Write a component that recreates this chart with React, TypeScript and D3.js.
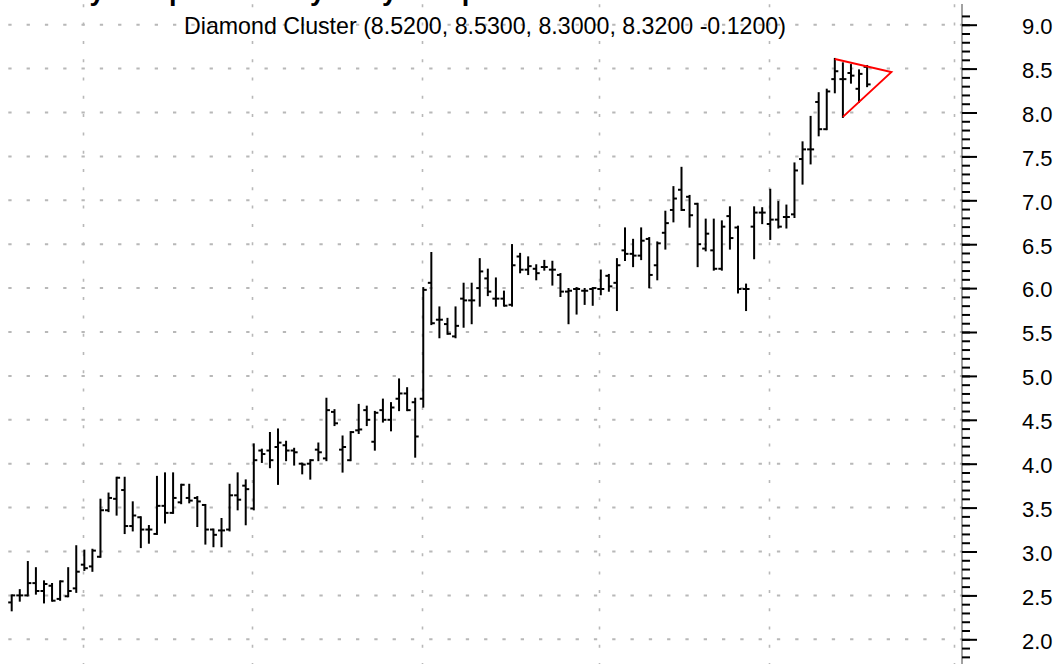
import { useEffect, useRef } from "react";
import * as d3 from "d3";

// daily OHLC
const opens = [
  2.42, 2.5, 2.5, 2.64, 2.55, 2.61, 2.46, 2.49, 2.58, 2.85, 2.83, 2.94, 3.47, 3.6, 3.7, 3.29, 3.39, 3.25, 3.2, 3.52,
  3.44, 3.56, 3.61, 3.61, 3.53, 3.25, 3.24, 3.25, 3.64, 3.75, 3.49, 4.15, 4.15, 4.19, 4.21, 4.15, 4.0, 4.0, 4.16, 4.06,
  4.59, 4.16, 4.04, 4.38, 4.61, 4.25, 4.61, 4.5, 4.74, 4.8, 4.7, 4.74, 6.06, 5.64, 5.59, 5.45, 5.88, 5.86, 6.0, 6.11,
  5.88, 5.88, 5.81, 6.36, 6.21, 6.22, 6.24, 6.21, 6.15, 5.96, 5.99, 5.97, 5.99, 5.99, 6.14, 6.06, 6.43, 6.39, 6.37, 6.56,
  6.26, 6.63, 6.89, 7.12, 7.04, 6.96, 6.45, 6.43, 6.22, 6.82, 6.69, 5.99, 6.7, 6.86, 6.73, 6.78, 6.81, 6.84, 7.47, 7.58,
  8.12, 7.81, 8.38, 8.38, 8.45, 8.27, 8.52,
];
const highs = [
  2.5, 2.56, 2.88, 2.81, 2.66, 2.63, 2.66, 2.81, 3.06, 3.01, 3.02, 3.59, 3.66, 3.84, 3.84, 3.56, 3.39, 3.29, 3.85, 3.89,
  3.89, 3.76, 3.76, 3.62, 3.53, 3.25, 3.37, 3.76, 3.89, 3.81, 4.22, 4.16, 4.35, 4.39, 4.25, 4.17, 4.0, 4.04, 4.23, 4.74,
  4.61, 4.31, 4.36, 4.67, 4.65, 4.59, 4.73, 4.69, 4.96, 4.86, 4.74, 6.0, 6.4, 5.78, 5.65, 5.78, 6.05, 6.05, 6.33, 6.21,
  6.11, 5.96, 6.49, 6.39, 6.35, 6.26, 6.31, 6.3, 6.16, 5.99, 6.0, 5.99, 6.0, 6.2, 6.15, 6.33, 6.68, 6.55, 6.68, 6.57,
  6.52, 6.87, 7.15, 7.37, 7.05, 6.96, 6.78, 6.78, 6.76, 6.92, 6.7, 6.04, 6.92, 6.91, 7.12, 6.98, 6.94, 7.42, 7.66, 7.95,
  8.22, 8.26, 8.61, 8.56, 8.54, 8.48, 8.53,
];
const lows = [
  2.33, 2.44, 2.5, 2.52, 2.42, 2.44, 2.45, 2.49, 2.54, 2.79, 2.78, 2.94, 3.46, 3.42, 3.21, 3.24, 3.05, 3.1, 3.2, 3.33,
  3.44, 3.55, 3.56, 3.29, 3.09, 3.06, 3.06, 3.24, 3.48, 3.31, 3.48, 4.02, 3.96, 3.77, 4.04, 3.99, 3.89, 3.83, 4.04, 4.04,
  4.44, 3.91, 4.04, 4.35, 4.44, 4.16, 4.48, 4.38, 4.61, 4.61, 4.08, 4.65, 5.59, 5.44, 5.48, 5.44, 5.56, 5.6, 5.8, 5.92,
  5.8, 5.8, 5.8, 6.18, 6.16, 6.1, 6.21, 6.04, 5.91, 5.6, 5.71, 5.82, 5.81, 5.93, 5.97, 5.75, 6.32, 6.25, 6.33, 6.01,
  6.1, 6.45, 6.76, 6.89, 6.7, 6.25, 6.43, 6.21, 6.21, 6.45, 5.95, 5.75, 6.34, 6.74, 6.56, 6.69, 6.69, 6.81, 7.19, 7.42,
  7.74, 7.81, 8.23, 7.95, 8.34, 8.12, 8.3,
];
const closes = [
  2.5, 2.5, 2.64, 2.55, 2.63, 2.44, 2.66, 2.55, 2.77, 2.81, 3.01, 3.47, 3.61, 3.84, 3.29, 3.41, 3.25, 3.25, 3.52, 3.44,
  3.61, 3.76, 3.58, 3.57, 3.25, 3.19, 3.24, 3.64, 3.59, 3.71, 4.04, 4.11, 4.04, 4.24, 4.15, 4.13, 3.99, 4.04, 4.13, 4.61,
  4.46, 4.19, 4.36, 4.39, 4.5, 4.58, 4.5, 4.64, 4.8, 4.61, 4.31, 5.98, 5.6, 5.64, 5.48, 5.57, 5.86, 5.86, 6.19, 5.96,
  5.88, 5.8, 6.26, 6.21, 6.25, 6.17, 6.24, 6.21, 5.96, 5.97, 5.99, 5.97, 6.0, 5.99, 6.02, 6.26, 6.39, 6.37, 6.54, 6.15,
  6.51, 6.74, 7.02, 6.89, 6.83, 6.5, 6.62, 6.22, 6.7, 6.57, 5.99, 5.99, 6.86, 6.86, 6.78, 6.7, 6.81, 7.34, 7.58, 7.58,
  7.81, 8.24, 8.47, 8.38, 8.42, 8.44, 8.32,
];

// first trading day of each month (bar index)
const monthStarts = [9, 30, 51, 73, 94, 117];
const priceTicks = [2.0, 2.5, 3.0, 3.5, 4.0, 4.5, 5.0, 5.5, 6.0, 6.5, 7.0, 7.5, 8.0, 8.5, 9.0];

// diamond cluster outline: top-left, apex, bottom-left
const clusterIdx = [102, 109, 103];
const clusterPrice = [8.61, 8.46, 7.95];

// title sits above the frame, only its descenders show
const titleText = "Daily Sample Chart by Daily Sample";
const subtitleText = "Diamond Cluster (8.5200, 8.5300, 8.3000, 8.3200 -0.1200)";

const W = 1061;
const H = 664;
const FONT = "'Liberation Sans', Arial, sans-serif";

export default function App() {
  const ref = useRef<SVGSVGElement>(null);

  useEffect(() => {
    if (!ref.current) return;
    document.body.style.margin = "0";

    const svg = d3.select(ref.current);
    svg.selectAll("*").remove();

    const axisX = 962;
    const x = d3.scaleLinear().domain([0, 106]).range([11.7, 867.1]);
    const y = d3.scaleLinear().domain([2, 9]).range([639.3, 24.7]);

    const data = opens.map((o, i) => ({ i, o, h: highs[i], l: lows[i], c: closes[i] }));

    svg.append("rect").attr("width", W).attr("height", H).attr("fill", "#fff");

    // grid
    const grid = svg.append("g").attr("stroke", "#b8b8b8").attr("stroke-width", 2);
    grid
      .selectAll("line.h")
      .data(priceTicks)
      .join("line")
      .attr("class", "h")
      .attr("x1", 0)
      .attr("x2", axisX)
      .attr("y1", (d) => y(d))
      .attr("y2", (d) => y(d))
      .attr("stroke-dasharray", "3.3 15")
      .attr("stroke-dashoffset", 10);
    grid
      .selectAll("line.v")
      .data(monthStarts)
      .join("line")
      .attr("class", "v")
      .attr("x1", (d) => Math.round(x(d) - 1.5) + 0.5)
      .attr("x2", (d) => Math.round(x(d) - 1.5) + 0.5)
      .attr("y1", 0)
      .attr("y2", H)
      .attr("stroke-width", 1.6)
      .attr("stroke-dasharray", "3 15.3")
      .attr("stroke-dashoffset", 14);

    // titles
    svg
      .append("text")
      .attr("x", 40)
      .attr("y", -0.5)
      .attr("font-family", FONT)
      .attr("font-weight", "bold")
      .attr("font-size", 27)
      .attr("fill", "#000")
      .text(titleText);

    svg
      .append("text")
      .attr("x", 485)
      .attr("y", 34)
      .attr("text-anchor", "middle")
      .attr("font-family", FONT)
      .attr("font-size", 23.2)
      .attr("fill", "#000")
      .text(subtitleText);

    // OHLC bars
    const bars = svg.append("g").attr("stroke", "#000").attr("stroke-width", 2);
    const bar = bars.selectAll("g").data(data).join("g");
    bar
      .append("line")
      .attr("x1", (d) => x(d.i))
      .attr("x2", (d) => x(d.i))
      .attr("y1", (d) => y(d.h) - 1)
      .attr("y2", (d) => y(d.l) + 1);
    bar
      .append("line")
      .attr("x1", (d) => x(d.i) - 3.5)
      .attr("x2", (d) => x(d.i))
      .attr("y1", (d) => y(d.o))
      .attr("y2", (d) => y(d.o));
    bar
      .append("line")
      .attr("x1", (d) => x(d.i))
      .attr("x2", (d) => x(d.i) + 3.5)
      .attr("y1", (d) => y(d.c))
      .attr("y2", (d) => y(d.c));

    // diamond cluster lines
    const pts = clusterIdx.map((d, k) => [x(d), y(clusterPrice[k])] as [number, number]);
    svg
      .append("path")
      .attr("d", d3.line()(pts))
      .attr("fill", "none")
      .attr("stroke", "#ff0000")
      .attr("stroke-width", 2);

    // right price axis
    svg
      .append("line")
      .attr("x1", axisX)
      .attr("x2", axisX)
      .attr("y1", 4)
      .attr("y2", H)
      .attr("stroke", "#444")
      .attr("stroke-width", 1);

    const minorTicks = d3.range(18, 92).map((d) => d / 10);
    const minor = svg
      .append("g")
      .attr("transform", `translate(${axisX},0)`)
      .call(d3.axisRight(y).tickValues(minorTicks).tickSize(8).tickFormat(() => ""));
    minor.select(".domain").remove();
    minor.selectAll(".tick line").attr("stroke", "#000").attr("stroke-width", 2);

    const major = svg
      .append("g")
      .attr("transform", `translate(${axisX},0)`)
      .call(
        d3
          .axisRight(y)
          .tickValues(priceTicks)
          .tickSize(15)
          .tickPadding(45)
          .tickFormat((d) => d3.format(".1f")(d as number))
      );
    major.select(".domain").remove();
    major.selectAll(".tick line").attr("stroke", "#000").attr("stroke-width", 2);
    major
      .selectAll(".tick text")
      .attr("font-family", FONT)
      .attr("font-size", 22)
      .attr("fill", "#000")
      .attr("dy", "0.4em");
  }, []);

  return <svg ref={ref} width={W} height={H} style={{ display: "block" }}></svg>;
}
